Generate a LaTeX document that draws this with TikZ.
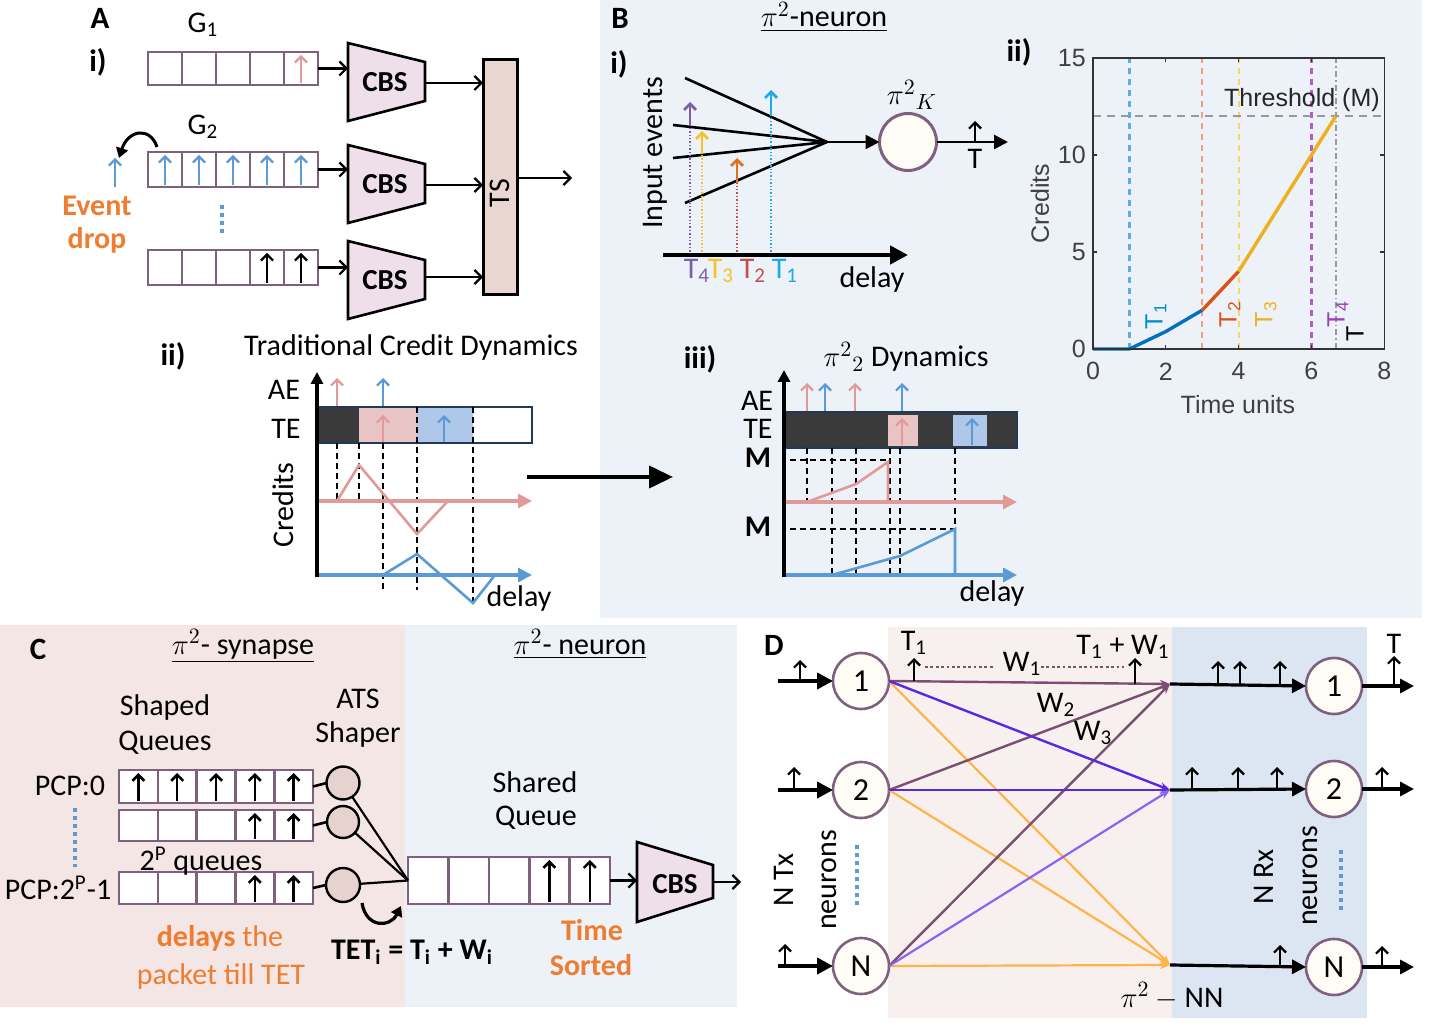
\documentclass[tikz,border=0pt]{standalone}
\usepackage{fontspec}
\setmainfont{Carlito}
\newfontfamily\plotfont{Liberation Sans}
\usetikzlibrary{arrows.meta,calc}
\definecolor{qborder}{HTML}{80607F}
\definecolor{cbsfill}{HTML}{EEDFEA}
\definecolor{tsfill}{HTML}{E9D6D1}
\definecolor{pinkc}{HTML}{E09A9A}
\definecolor{bluec}{HTML}{5B9BD5}
\definecolor{orangec}{HTML}{ED7D31}
\definecolor{bgB}{HTML}{EDF1F8}
\definecolor{bgCp}{HTML}{F5E6E6}
\definecolor{bgCb}{HTML}{EDF1F8}
\definecolor{bgDp}{HTML}{F8EFEF}
\definecolor{bgDb}{HTML}{DCE6F2}
\definecolor{tepink}{HTML}{E8C4C4}
\definecolor{teblue}{HTML}{AFC8EA}
\definecolor{darkbar}{HTML}{3A3A3A}
\definecolor{navyb}{HTML}{1F3A5A}
\definecolor{evpurple}{HTML}{7E5FA6}
\definecolor{evyellow}{HTML}{F5C227}
\definecolor{evorange}{HTML}{E07020}
\definecolor{evblue}{HTML}{1FA9E8}
\definecolor{evred}{HTML}{C0504D}
\definecolor{mblue}{HTML}{0072BD}
\definecolor{morange}{HTML}{D95319}
\definecolor{myellow}{HTML}{EDB120}
\definecolor{mpurple}{HTML}{9A3FB8}
\definecolor{pl1}{HTML}{5DADE2}
\definecolor{pl3}{HTML}{F0A080}
\definecolor{pl4}{HTML}{F8D568}
\definecolor{pl6}{HTML}{B060C0}
\definecolor{cream}{HTML}{FFFCF5}
\definecolor{shaperfill}{HTML}{E6D3CF}
\definecolor{wone}{HTML}{7B4F72}
\definecolor{wtwo}{HTML}{5A28E0}
\definecolor{wtwob}{HTML}{8A64F0}
\definecolor{wthree}{HTML}{FDB54A}
\newcommand\qcells[1]{\foreach \i in {1,2,3,4}{\draw[qborder,line width=1.3pt] ($(#1.north west)!{\i/5}!(#1.north east)$) -- ($(#1.south west)!{\i/5}!(#1.south east)$);}}
\newcommand\qarrow[4]{\draw[#3,line width=#4,-{Straight Barb[length=3pt,width=6pt]}] ($(#1.south west)!{(#2-0.5)/5}!(#1.south east)+(0,-2)$) -- ($(#1.north west)!{(#2-0.5)/5}!(#1.north east)+(0,3)$);}
\newcommand\cbsshape[2]{\draw[line width=1.3pt,fill=cbsfill] (#1,#2-39) -- (#1+77,#2-20) -- (#1+77,#2+19) -- (#1,#2+39) -- cycle;}
\begin{document}
\begin{tikzpicture}[x=0.5pt,y=-0.5pt,
  every node/.style={inner sep=0pt,outer sep=0pt},
  txt/.style={font=\fontsize{15}{17}\selectfont},
  btxt/.style={font=\fontsize{15}{17}\selectfont\bfseries},
  hdr/.style={font=\fontsize{15.5}{17}\selectfont\bfseries},
  cbstxt/.style={font=\fontsize{14.5}{16}\selectfont\bfseries},
  ptxt/.style={font=\plotfont\fontsize{12.5}{14}\selectfont},
  qbox/.style={draw=qborder,line width=1.3pt,fill=white,anchor=north west},
  conn/.style={-{Straight Barb[length=3.5pt,width=7pt]},line width=1.1pt},
  upar/.style={-{Straight Barb[length=3pt,width=6pt]},line width=1.1pt},
  dashv/.style={black,line width=0.7pt,dash pattern=on 3pt off 2pt},
  vdash/.style={line width=1.1pt,dash pattern=on 3pt off 2.5pt},
  dnode/.style={circle,draw=qborder,line width=1.3pt,fill=cream,minimum size=28pt,font=\fontsize{16}{18}\selectfont},
]
\useasboundingbox (0,0) rectangle (1435,1031);
\fill[white] (0,0) rectangle (1435,1031);
% backgrounds
\fill[bgB] (600,0) rectangle (1422,618);
\fill[bgCp] (0,625) rectangle (405,1007);
\fill[bgCb] (405,625) rectangle (737,1007);
\fill[bgDp] (888,627) rectangle (1172,1018);
\fill[bgDb] (1172,627) rectangle (1367,1018);

% ================= Panel A i =================
\node[hdr] (lA) at (100,18) {A};
\node[hdr] (lAi) at (98,62) {i)};
\node[txt] (g1) at (203,25) {G\textsubscript{1}};
\node[txt] (g2) at (203,127) {G\textsubscript{2}};
\node[qbox,minimum width=85pt,minimum height=16.5pt] (qa1) at (148,52) {};
\node[qbox,minimum width=85pt,minimum height=17.5pt] (qa2) at (148,152) {};
\node[qbox,minimum width=85pt,minimum height=17.5pt] (qa3) at (148,250) {};
\qcells{qa1}\qcells{qa2}\qcells{qa3}
\qarrow{qa1}{5}{pinkc}{1.1pt}
\foreach \k in {1,...,5}{\qarrow{qa2}{\k}{bluec}{1.1pt}}
\qarrow{qa3}{4}{black}{1.1pt}
\qarrow{qa3}{5}{black}{1.1pt}
\cbsshape{348}{82}\node[cbstxt] (cbs1) at (385,82) {CBS};
\cbsshape{348}{184}\node[cbstxt] (cbs2) at (385,184) {CBS};
\cbsshape{348}{280}\node[cbstxt] (cbs3) at (385,280) {CBS};
\coordinate (c1in) at (348,68.5);
\coordinate (c2in) at (348,169.5);
\coordinate (c3in) at (348,267.5);
\coordinate (c1out) at (425,83);
\coordinate (c2out) at (425,185);
\coordinate (c3out) at (425,277);
\draw[conn] (qa1.east) -- (c1in);
\draw[conn] (qa2.east) -- (c2in);
\draw[conn] (qa3.east) -- (c3in);
\node[draw,line width=1.5pt,fill=tsfill,minimum width=17pt,minimum height=117.5pt,anchor=north west] (ts) at (483,60) {};
\node[txt,rotate=90] (tstxt) at (500,193) {TS};
\draw[conn] (c1out) -- (c1out -| ts.west);
\draw[conn] (c2out) -- (c2out -| ts.west);
\draw[conn] (c3out) -- (c3out -| ts.west);
\coordinate (tsout) at (572,178);
\draw[conn] (tsout -| ts.east) -- (tsout);
% event drop
\coordinate (dropA) at (157,147);
\coordinate (dropB) at (119,158);
\draw[line width=1.5pt,-{Triangle[length=5pt,width=6pt]}] (dropA) .. controls (150,126) and (128,130) .. (dropB);
\coordinate (edb) at (115,187);
\coordinate (edt) at (115,158);
\draw[bluec,upar] (edb) -- (edt);
\node[btxt,text=orangec] (ev1) at (97,206) {Event};
\node[btxt,text=orangec] (ev2) at (97,240) {drop};
\draw[bluec,line width=2pt,dash pattern=on 2pt off 2pt] (222,205) -- (222,237);

% ================= Panel A ii =================
\node[hdr] (lAii) at (173,356) {ii)};
\node[txt] (tcd) at (411,348) {Traditional Credit Dynamics};
\node[txt] (ae1) at (284,390) {AE};
\node[txt] (te1) at (286,429) {TE};
\node[txt,rotate=90] (cr1) at (283,505) {Credits};
\fill[darkbar] (317,407) rectangle (359,443);
\fill[tepink] (359,407) rectangle (417,443);
\fill[teblue] (417,407) rectangle (473,443);
\draw[navyb,line width=1.4pt] (317,407) rectangle (532,443);
\draw[pinkc,upar] (337,406) -- (337,378);
\draw[bluec,upar] (383,406) -- (383,378);
\draw[pinkc,upar] (383,442) -- (383,415);
\draw[bluec,upar] (444,442) -- (444,415);
\draw[dashv] (337,443) -- (337,500);
\draw[dashv] (359,443) -- (359,500);
\draw[dashv] (383,443) -- (383,592);
\draw[dashv] (417,407) -- (417,590);
\draw[dashv] (473,407) -- (473,602);
\draw[pinkc,line width=1.6pt,-{Triangle[length=7pt,width=7pt]}] (317,501) -- (532,501);
\draw[bluec,line width=1.6pt,-{Triangle[length=7pt,width=7pt]}] (317,575) -- (532,575);
\draw[pinkc,line width=1.3pt] (337,501) -- (359,465) -- (417,534) -- (448,501);
\draw[bluec,line width=1.3pt] (383,575) -- (417,554) -- (473,603) -- (495,575);
\draw[line width=1.6pt,-{Triangle[length=6pt,width=6pt]}] (317,577) -- (317,372);
\node[txt] (dl1) at (519,599) {delay};
% big arrow
\coordinate (bigA) at (527,477);
\coordinate (bigB) at (673,477);
\draw[line width=2pt,-{Triangle[length=12pt,width=11pt]}] (bigA) -- (bigB);

% ================= Panel B i =================
\node[hdr] (lB) at (620,18) {B};
\node[txt,anchor=base] (bt) at (824,27) {\underline{$\pi^2$-neuron}};
\node[hdr] (lBi) at (619,64) {i)};
\coordinate (conv) at (827,142);
\draw[line width=1.3pt] (685,78) -- (conv);
\draw[line width=1.3pt] (673,125) -- (conv);
\draw[line width=1.3pt] (673,158) -- (conv);
\draw[line width=1.3pt] (685,203) -- (conv);
\node[circle,draw=qborder,line width=1.5pt,fill=cream,minimum size=28.5pt] (kc) at (908,142) {};
\draw[line width=1.3pt,-{Triangle[length=7pt,width=7pt]}] (conv) -- (kc.west);
\node[txt] (kl) at (912,95) {$\pi^2{}_{K}$};
\coordinate (kout) at (1008,142);
\draw[line width=1.3pt,-{Triangle[length=7pt,width=7pt]}] (kc.east) -- (kout);
\draw[upar] (975,143) -- (975,121);
\node[txt] (kT) at (975,159) {T};
\draw[evpurple,line width=0.7pt,densely dotted] (690,255) -- (690,125);
\draw[evpurple,line width=1.4pt,-{Straight Barb[length=3pt,width=6pt]}] (690,126) -- (690,102);
\draw[evyellow,line width=0.7pt,densely dotted] (702,255) -- (702,153);
\draw[evyellow,line width=1.4pt,-{Straight Barb[length=3pt,width=6pt]}] (702,154) -- (702,131);
\draw[evred,line width=0.7pt,densely dotted] (737,255) -- (737,182);
\draw[evorange,line width=1.4pt,-{Straight Barb[length=3pt,width=6pt]}] (737,183) -- (737,158);
\draw[evblue,line width=0.7pt,densely dotted] (771,255) -- (771,113);
\draw[evblue,line width=1.4pt,-{Straight Barb[length=3pt,width=6pt]}] (771,114) -- (771,90);
\draw[line width=2.2pt,-{Triangle[length=9pt,width=9pt]}] (663,255) -- (908,255);
\node[txt,text=evpurple] (t4) at (697,271) {T\textsubscript{4}};
\node[txt,text=evyellow] (t3) at (721,271) {T\textsubscript{3}};
\node[txt,text=evred] (t2) at (753,271) {T\textsubscript{2}};
\node[txt,text=evblue] (t1) at (785,271) {T\textsubscript{1}};
\node[txt] (dlB) at (872,280) {delay};
\node[txt,rotate=90] (ie) at (655,153) {Input events};

% ================= Panel B ii (plot) =================
\node[hdr] (lBii) at (1019,52) {ii)};
\coordinate (porig) at (1093,349);
\begin{scope}[shift={(porig)},x=18.2pt,y=9.7pt]
  \draw[pl1,vdash] (1,0) -- (1,15);
  \draw[pl3,vdash] (3,0) -- (3,15);
  \draw[pl4,vdash] (4,0) -- (4,15);
  \draw[pl6,vdash] (6,0) -- (6,15);
  \draw[gray!80,line width=0.8pt,dash pattern=on 3pt off 1.5pt on 0.8pt off 1.5pt] (6.67,0) -- (6.67,15);
  \draw[gray!80,line width=0.7pt,dash pattern=on 4pt off 3pt] (0,12) -- (8,12);
  \draw[mblue,line width=1.7pt] (0,0) -- (1,0) -- (2,0.9) -- (3,2);
  \draw[morange,line width=1.7pt] (3,2) -- (4,4);
  \draw[myellow,line width=1.7pt] (4,4) -- (6.67,12);
  \draw[black!80,line width=0.6pt] (0,0) rectangle (8,15);
  \foreach \v in {2,4,6}{\draw[black!80,line width=0.6pt] (\v,0) -- ++(0,0.2) (\v,15) -- ++(0,-0.2);}
  \foreach \v in {5,10}{\draw[black!80,line width=0.6pt] (0,\v) -- ++(0.11,0) (8,\v) -- ++(-0.11,0);}
  \foreach \v in {0,2,4,6,8}{\node[ptxt,text=black!75] at (\v,-1.15) {\v};}
  \foreach \v in {0,5,10,15}{\node[ptxt,text=black!75,anchor=east] at (-0.2,\v) {\v};}
  \node[ptxt,text=black!75,rotate=90] (pyl) at (-1.46,7.5) {Credits};
  \node[ptxt,text=black!75] (pxl) at (3.98,-2.84) {Time units};
  \node[ptxt,text=black!85] (thr) at (5.74,12.84) {Threshold (M)};
  \node[ptxt,text=mblue!80!cyan,rotate=90] at (1.73,1.7) {T\textsubscript{1}};
  \node[ptxt,text=morange,rotate=90] at (3.76,1.8) {T\textsubscript{2}};
  \node[ptxt,text=myellow,rotate=90] at (4.75,1.8) {T\textsubscript{3}};
  \node[ptxt,text=mpurple,rotate=90] at (6.73,1.8) {T\textsubscript{4}};
  \node[ptxt,text=black,rotate=90] at (7.2,0.77) {T};
\end{scope}

% ================= Panel B iii =================
\node[hdr] (lBiii) at (700,359) {iii)};
\node[txt] (pdt) at (906,357) {$\pi^2{}_2$ Dynamics};
\node[txt] (ae2) at (757,401) {AE};
\node[txt] (te2) at (758,429) {TE};
\node[btxt] (m1) at (758,458) {M};
\node[btxt] (m2) at (758,527) {M};
\draw[navyb,fill=darkbar,line width=1pt] (784,412) rectangle (1017,448);
\fill[tepink] (888,415) rectangle (918,446);
\fill[teblue] (953,415) rectangle (987,446);
\draw[pinkc,upar] (807,411) -- (807,383);
\draw[bluec,upar] (825,411) -- (825,383);
\draw[pinkc,upar] (855,411) -- (855,383);
\draw[bluec,upar] (902,411) -- (902,383);
\draw[pinkc,upar] (902,445) -- (902,418);
\draw[bluec,upar] (972,445) -- (972,418);
\draw[dashv] (790,460) -- (888,460);
\draw[dashv] (790,529) -- (955,529);
\draw[dashv] (807,448) -- (807,502);
\draw[dashv] (832,448) -- (832,575);
\draw[dashv] (856,448) -- (856,575);
\draw[dashv] (890,448) -- (890,575);
\draw[dashv] (900,448) -- (900,575);
\draw[dashv] (955,448) -- (955,529);
\draw[pinkc,line width=1.6pt,-{Triangle[length=7pt,width=7pt]}] (784,502) -- (1017,502);
\draw[bluec,line width=1.6pt,-{Triangle[length=7pt,width=7pt]}] (784,575) -- (1017,575);
\draw[pinkc,line width=1.3pt] (807,502) -- (856,484) -- (888,462) -- (888,502);
\draw[bluec,line width=1.3pt] (832,575) -- (900,556) -- (955,529) -- (955,575);
\draw[line width=1.6pt,-{Triangle[length=6pt,width=6pt]}] (784,577) -- (784,370);
\node[txt] (dl3) at (992,594) {delay};

% ================= Panel C =================
\node[hdr] (lC) at (38,649) {C};
\node[txt,anchor=base] (syn) at (243,654) {\underline{$\pi^2$- synapse}};
\node[txt,anchor=base] (neu) at (580,654) {\underline{$\pi^2$- neuron}};
\node[txt] (sh1) at (165,708) {Shaped};
\node[txt] (sh2) at (165,743) {Queues};
\node[txt] (ats1) at (358,699) {ATS};
\node[txt] (ats2) at (358,735) {Shaper};
\node[qbox,minimum width=97pt,minimum height=16.5pt] (qc1) at (119,770) {};
\node[qbox,minimum width=97pt,minimum height=15.5pt] (qc2) at (119,810) {};
\node[qbox,minimum width=97pt,minimum height=16pt] (qc3) at (119,872) {};
\qcells{qc1}\qcells{qc2}\qcells{qc3}
\foreach \k in {1,...,5}{\qarrow{qc1}{\k}{black}{1.3pt}}
\qarrow{qc2}{4}{black}{1.3pt}\qarrow{qc2}{5}{black}{1.3pt}
\qarrow{qc3}{4}{black}{1.3pt}\qarrow{qc3}{5}{black}{1.3pt}
\node[circle,draw,line width=1.2pt,fill=shaperfill,minimum size=16.5pt] (s1) at (343,783) {};
\node[circle,draw,line width=1.2pt,fill=shaperfill,minimum size=16pt] (s2) at (343,822) {};
\node[circle,draw,line width=1.2pt,fill=shaperfill,minimum size=17pt] (s3) at (343,885) {};
\draw[line width=1.3pt] (qc1.east) -- (s1.west);
\draw[line width=1.3pt] (qc2.east) -- (s2.west);
\draw[line width=1.3pt] (qc3.east) -- (s3.west);
\node[qbox,minimum width=101pt,minimum height=23.5pt] (sq) at (408,857) {};
\qcells{sq}
\qarrow{sq}{4}{black}{1.3pt}\qarrow{sq}{5}{black}{1.3pt}
\draw[line width=1.1pt] (s1) -- (sq.west);
\draw[line width=1.1pt] (s2) -- (sq.west);
\draw[line width=1.1pt] (s3) -- (sq.west);
\node[txt] (pcp0) at (70,786) {PCP:0};
\node[txt] (pcpn) at (58,888) {PCP:2\textsuperscript{P}-1};
\node[txt] (npq) at (201,861) {2\textsuperscript{P} queues};
\draw[bluec,line width=2pt,dash pattern=on 2pt off 2pt] (75,808) -- (75,867);
\node[txt,text=orangec] (dly1) at (220,938) {\textbf{delays} the};
\node[txt,text=orangec] (dly2) at (221,976) {packet till TET};
\coordinate (ca) at (362,903);
\coordinate (cb) at (401,906);
\draw[line width=1.6pt,-{Triangle[length=5pt,width=6pt]}] (ca) .. controls (366,928) and (390,928) .. (cb);
\node[btxt] (tet) at (412,952) {TET\textsubscript{i} = T\textsubscript{i} + W\textsubscript{i}};
\node[txt] (shq1) at (535,782) {Shared};
\node[txt] (shq2) at (536,818) {Queue};
\draw[line width=1.3pt,fill=cbsfill] (637,842) -- (713,865) -- (713,898) -- (637,922) -- cycle;
\node[cbstxt] (cbs4) at (675,884) {CBS};
\coordinate (c4in) at (637,880.5);
\coordinate (c4out) at (713,882);
\coordinate (c4end) at (741,882);
\draw[conn] (sq.east) -- (c4in);
\draw[conn] (c4out) -- (c4end);
\node[btxt,text=orangec] (ts1) at (592,930) {Time};
\node[btxt,text=orangec] (ts2) at (591,965) {Sorted};

% ================= Panel D =================
\node[hdr] (lD) at (774,645) {D};
\node[dnode] (l1) at (861,681) {1};
\node[dnode] (l2) at (861,790) {2};
\node[dnode] (lN) at (861,966) {N};
\node[dnode] (r1) at (1334,686) {1};
\node[dnode] (r2) at (1334,789) {2};
\node[dnode] (rN) at (1334,967) {N};
\coordinate (p1) at (1170,684);
\coordinate (p2) at (1170,790);
\coordinate (pN) at (1170,965);
\foreach \s in {l1,l2,lN}{
  \draw[wthree,line width=1.1pt,-{Stealth[length=5pt,width=4pt]}] (\s.east) -- (pN);
  \draw[wone,line width=1.2pt,-{Stealth[length=5pt,width=4pt]}] (\s.east) -- (p1);
}
\draw[wtwo,line width=1.2pt,-{Stealth[length=5pt,width=4pt]}] (l1.east) -- (p2);
\draw[wtwo,line width=1.2pt,-{Stealth[length=5pt,width=4pt]}] (l2.east) -- (p2);
\draw[wtwob,line width=1.1pt,-{Stealth[length=5pt,width=4pt]}] (lN.east) -- (p2);
\draw[line width=1.6pt,-{Triangle[length=7pt,width=7pt]}] (p1) -- (r1.west);
\draw[line width=1.6pt,-{Triangle[length=7pt,width=7pt]}] (p2) -- (r2.west);
\draw[line width=1.6pt,-{Triangle[length=7pt,width=7pt]}] (pN) -- (rN.west);
\coordinate (i1) at (778,681);
\coordinate (i2) at (778,790);
\coordinate (iN) at (778,966);
\draw[line width=2pt,-{Triangle[length=8pt,width=8pt]}] (i1) -- (l1.west);
\draw[line width=2pt,-{Triangle[length=8pt,width=8pt]}] (i2) -- (l2.west);
\draw[line width=2pt,-{Triangle[length=8pt,width=8pt]}] (iN) -- (lN.west);
\coordinate (o1) at (1414,686);
\coordinate (o2) at (1414,789);
\coordinate (oN) at (1414,967);
\draw[line width=1.6pt,-{Triangle[length=7pt,width=7pt]}] (r1.east) -- (o1);
\draw[line width=1.6pt,-{Triangle[length=7pt,width=7pt]}] (r2.east) -- (o2);
\draw[line width=1.6pt,-{Triangle[length=7pt,width=7pt]}] (rN.east) -- (oN);
% small event arrows
\draw[upar] (800,681) -- (800,660);
\draw[upar] (794,790) -- (794,767);
\draw[upar] (785,966) -- (785,944);
\draw[upar] (1394,686) -- (1394,656);
\draw[upar] (1382,789) -- (1382,767);
\draw[upar] (1382,967) -- (1382,946);
\draw[upar] (1218,685) -- (1218,661);
\draw[upar] (1240,685) -- (1240,661);
\draw[upar] (1280,685) -- (1280,661);
\draw[upar] (1192,790) -- (1192,767);
\draw[upar] (1238,790) -- (1238,767);
\draw[upar] (1277,790) -- (1277,767);
\draw[upar] (1280,965) -- (1280,945);
\draw[upar] (914,681) -- (914,658);
\draw[upar] (1135,684) -- (1135,658);
\draw[wone,line width=1.4pt,dash pattern=on 1.4pt off 1.3pt] (925,667) -- (993,667);
\draw[wone,line width=1.4pt,dash pattern=on 1.4pt off 1.3pt] (1041,667) -- (1124,667);
\node[txt] (dT1) at (914,643) {T\textsubscript{1}};
\node[txt] (dW1) at (1022,664) {W\textsubscript{1}};
\node[txt] (dTW) at (1123,647) {T\textsubscript{1} + W\textsubscript{1}};
\node[txt] (dW2) at (1056,705) {W\textsubscript{2}};
\node[txt] (dW3) at (1093,733) {W\textsubscript{3}};
\node[txt] (dT) at (1394,644) {T};
\node[txt,rotate=90] (ntx) at (784,880) {N Tx};
\node[txt,rotate=90] (nneu1) at (829,880) {neurons};
\node[txt,rotate=90] (nrx) at (1264,877) {N Rx};
\node[txt,rotate=90] (nneu2) at (1310,876) {neurons};
\draw[bluec,line width=2pt,dash pattern=on 2pt off 2pt] (857,845) -- (857,907);
\draw[bluec,line width=2pt,dash pattern=on 2pt off 2pt] (1341,850) -- (1341,912);
\node[txt] (pnn) at (1172,996) {$\pi^2-\mathrm{NN}$};
\end{tikzpicture}
\end{document}
